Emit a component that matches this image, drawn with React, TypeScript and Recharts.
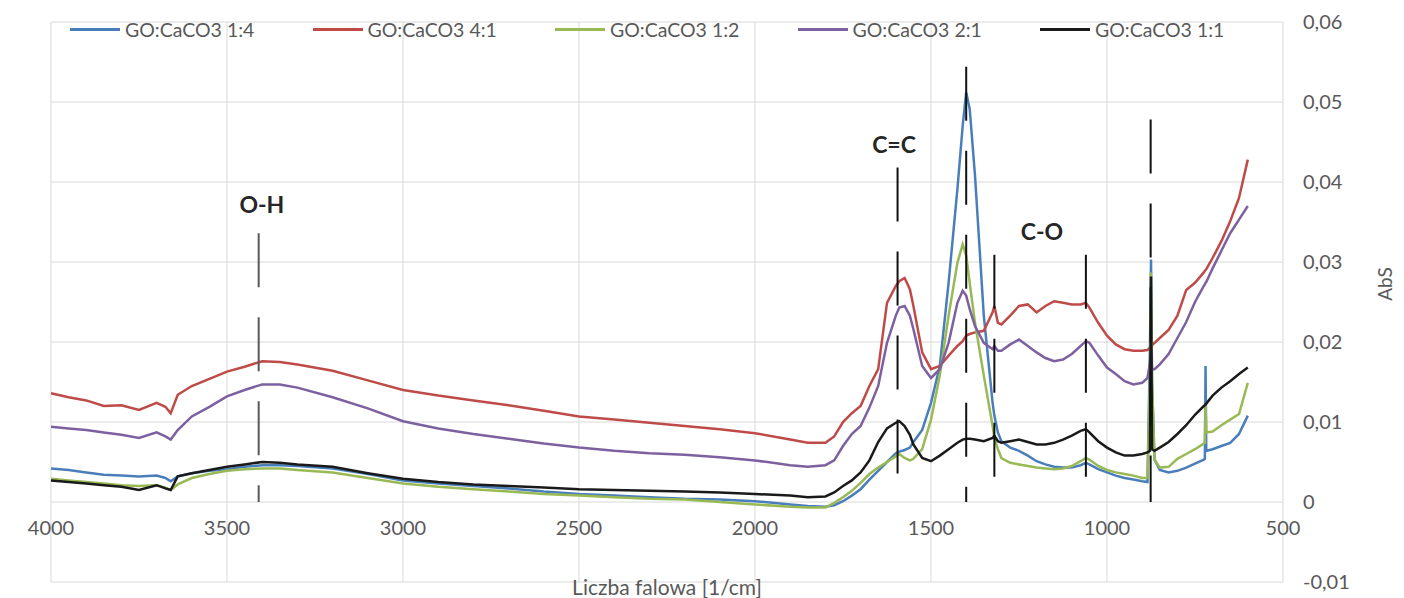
import {
  CartesianGrid,
  Legend,
  Line,
  LineChart,
  ReferenceDot,
  ReferenceLine,
  XAxis,
  YAxis,
} from "recharts";

// wavenumbers [1/cm], shared by all series
const waves = [
  4000, 3950, 3900, 3850, 3800, 3750, 3700, 3675, 3660, 3640,
  3600, 3550, 3500, 3450, 3400, 3350, 3300,
  3200, 3100, 3000, 2900, 2800, 2700, 2600, 2500, 2400, 2300, 2200, 2100, 2000, 1900, 1850,
  1800, 1775, 1750, 1725, 1700, 1675, 1650, 1625, 1600, 1590,
  1575, 1560, 1550, 1525, 1500, 1475, 1450, 1425, 1410, 1400,
  1390, 1375, 1350, 1325, 1320, 1310, 1300, 1275, 1250, 1225,
  1200, 1175, 1150, 1125, 1100, 1075, 1060, 1050, 1025, 1000,
  975, 950, 925, 900, 885, 878, 875, 872, 865, 850,
  825, 800, 775, 750, 725, 722, 720, 718, 700, 675,
  650, 625, 600,
];

const go14 = [
  0.0042, 0.004, 0.0037, 0.0034, 0.0033, 0.0032, 0.0033, 0.003, 0.0026, 0.0032,
  0.0036, 0.0039, 0.0041, 0.0044, 0.0046, 0.0046, 0.0045,
  0.0042, 0.0035, 0.0027, 0.0023, 0.002, 0.0017, 0.0013, 0.001, 0.0008, 0.0006, 0.0004, 0.0003, 0.0001, -0.0003, -0.0005,
  -0.0006, -0.0004, 0.0001, 0.0008, 0.0016, 0.0028, 0.0039, 0.005, 0.0061, 0.0063,
  0.0065, 0.0068, 0.0075, 0.009, 0.0124, 0.017, 0.0274, 0.0391, 0.047, 0.0512,
  0.0491, 0.0408, 0.0233, 0.0124, 0.0108, 0.0087, 0.0076, 0.0068, 0.0064, 0.0058,
  0.0051, 0.0047, 0.0044, 0.0043, 0.0043, 0.0046, 0.0049, 0.0047, 0.0041, 0.0037,
  0.0033, 0.003, 0.0028, 0.0026, 0.0025, 0.0191, 0.0303, 0.0149, 0.0053, 0.004,
  0.0037, 0.0039, 0.0043, 0.0048, 0.0053, 0.0054, 0.017, 0.0064, 0.0066, 0.007,
  0.0074, 0.0085, 0.0108,
];

const go41 = [
  0.0136, 0.0131, 0.0127, 0.012, 0.0121, 0.0115, 0.0124, 0.0119, 0.0111, 0.0134,
  0.0145, 0.0154, 0.0163, 0.0169, 0.0176, 0.0175, 0.0172,
  0.0164, 0.0152, 0.014, 0.0133, 0.0127, 0.0121, 0.0114, 0.0107, 0.0103, 0.0099, 0.0095, 0.0091, 0.0086, 0.0078, 0.0074,
  0.0074, 0.0082, 0.01, 0.0111, 0.012, 0.0145, 0.0166, 0.0249, 0.027, 0.0276,
  0.028, 0.0266, 0.0245, 0.0187, 0.0166, 0.017, 0.0183, 0.0195, 0.0201, 0.0208,
  0.021, 0.0212, 0.0214, 0.0237, 0.0245, 0.0224, 0.0222, 0.0233, 0.0245, 0.0247,
  0.0237, 0.0245, 0.0251, 0.0249, 0.0247, 0.0247, 0.0249, 0.0243, 0.0224, 0.0208,
  0.0197, 0.0191, 0.0189, 0.0189, 0.019, 0.0193, 0.0199, 0.0196, 0.0199, 0.0205,
  0.0215, 0.0233, 0.0265, 0.0274, 0.0287, 0.0289, 0.029, 0.0291, 0.0305, 0.0326,
  0.0351, 0.038, 0.0428,
];

const go12 = [
  0.0029, 0.0027, 0.0025, 0.0023, 0.0021, 0.002, 0.0021, 0.0018, 0.0015, 0.0022,
  0.003, 0.0035, 0.0039, 0.0041, 0.0042, 0.0042, 0.004,
  0.0037, 0.003, 0.0023, 0.0019, 0.0016, 0.0013, 0.001, 0.0008, 0.0006, 0.0004, 0.0003, 0.0, -0.0003, -0.0006, -0.0007,
  -0.0007, -0.0001, 0.0006, 0.0014, 0.0024, 0.0035, 0.0043, 0.005, 0.0057, 0.006,
  0.0055, 0.0052, 0.0054, 0.0066, 0.0103, 0.0158, 0.0233, 0.0299, 0.0322, 0.0308,
  0.0274, 0.0224, 0.0158, 0.0095, 0.008, 0.0066, 0.0055, 0.0049, 0.0047, 0.0045,
  0.0043, 0.0042, 0.0041, 0.0042, 0.0045, 0.0051, 0.0055, 0.0053, 0.0045, 0.004,
  0.0037, 0.0035, 0.0033, 0.003, 0.003, 0.0149, 0.0287, 0.0149, 0.0053, 0.0043,
  0.0044, 0.0054, 0.006, 0.0066, 0.0073, 0.0074, 0.012, 0.0087, 0.0088, 0.0096,
  0.0103, 0.011, 0.0149,
];

const go21 = [
  0.0094, 0.0092, 0.009, 0.0087, 0.0084, 0.008, 0.0087, 0.0082, 0.0078, 0.009,
  0.0107, 0.0119, 0.0132, 0.014, 0.0147, 0.0147, 0.0143,
  0.0131, 0.0117, 0.0101, 0.0092, 0.0085, 0.0079, 0.0073, 0.0068, 0.0064, 0.0061, 0.0059, 0.0056, 0.0052, 0.0046, 0.0044,
  0.0046, 0.0052, 0.007, 0.0085, 0.0095, 0.0118, 0.0145, 0.0199, 0.0233, 0.0243,
  0.0245, 0.0233, 0.0216, 0.017, 0.0155, 0.0166, 0.0199, 0.0249, 0.0264, 0.0258,
  0.0241, 0.022, 0.0199, 0.0191, 0.0195, 0.0189, 0.0189, 0.0197, 0.0203, 0.0195,
  0.0187, 0.018, 0.0176, 0.0178, 0.0185, 0.0195, 0.0201, 0.0199, 0.0183, 0.0168,
  0.016, 0.0151, 0.0147, 0.0149, 0.0155, 0.0174, 0.0191, 0.0166, 0.0166, 0.0172,
  0.0185, 0.0205, 0.0225, 0.025, 0.027, 0.0272, 0.0274, 0.0275, 0.0292, 0.0314,
  0.0336, 0.0353, 0.037,
];

const go11 = [
  0.0027, 0.0025, 0.0023, 0.0021, 0.0019, 0.0015, 0.0021, 0.0017, 0.0015, 0.0032,
  0.0036, 0.004, 0.0044, 0.0047, 0.005, 0.0049, 0.0047,
  0.0044, 0.0036, 0.0029, 0.0025, 0.0022, 0.002, 0.0018, 0.0016, 0.0015, 0.0014, 0.0013, 0.0012, 0.001, 0.0008, 0.0006,
  0.0007, 0.0012, 0.002, 0.0027, 0.0037, 0.0052, 0.0075, 0.0092, 0.0099, 0.0101,
  0.0095, 0.0084, 0.0072, 0.0055, 0.0051, 0.0058, 0.0066, 0.0074, 0.0078, 0.0079,
  0.0079, 0.0078, 0.0076, 0.008, 0.0083, 0.0076, 0.0074, 0.0076, 0.0078, 0.0075,
  0.0072, 0.0072, 0.0074, 0.0078, 0.0083, 0.0089, 0.0091, 0.0087, 0.0076, 0.0068,
  0.0062, 0.0058, 0.0058, 0.006, 0.0062, 0.0064, 0.0282, 0.0066, 0.0064, 0.0068,
  0.0075, 0.0085, 0.0096, 0.0109, 0.012, 0.0121, 0.0122, 0.0123, 0.0133, 0.0143,
  0.0151, 0.016, 0.0168,
];

const xTicks = [4000, 3500, 3000, 2500, 2000, 1500, 1000, 500];
const yTicks = [-0.01, 0, 0.01, 0.02, 0.03, 0.04, 0.05, 0.06];

// band markers: wavenumber and top of dashed line
const markerWaves = [3410, 1595, 1400, 1320, 1060, 876];
const markerTops = [0.0336, 0.0418, 0.0544, 0.0309, 0.0309, 0.0478];

const bandNames = ["O-H", "C=C", "C-O"];
const bandWaves = [3401, 1605, 1185];
const bandLevels = [0.0371, 0.0446, 0.0338];

const series = [
  { key: "go14", name: "GO:CaCO3 1:4", color: "#4a7ebb", values: go14 },
  { key: "go41", name: "GO:CaCO3 4:1", color: "#be4b48", values: go41 },
  { key: "go12", name: "GO:CaCO3 1:2", color: "#98b954", values: go12 },
  { key: "go21", name: "GO:CaCO3 2:1", color: "#7d60a0", values: go21 },
  { key: "go11", name: "GO:CaCO3 1:1", color: "#1a1a1a", values: go11 },
];

const data = waves.map((w, i) => {
  const row: Record<string, number> = { w };
  series.forEach((s) => (row[s.key] = s.values[i]));
  return row;
});

const W = 1404;
const H = 598;
const TOP = 22;
const BOTTOM = 16;
const PLOT_H = H - TOP - BOTTOM;
const Y_MIN = -0.01;
const Y_MAX = 0.06;
const ZERO_Y = TOP + (Y_MAX / (Y_MAX - Y_MIN)) * PLOT_H;

const FONT = "Lato, 'Open Sans', sans-serif";
const GREY = "#595959";

const XTick = (props: any) => (
  <text
    x={props.x}
    y={ZERO_Y + 25}
    textAnchor="middle"
    dominantBaseline="central"
    fill={GREY}
    fontSize={20}
    fontFamily={FONT}
  >
    {props.payload.value}
  </text>
);

const absLabel = (props: any) => {
  const vb = props.viewBox;
  return (
    <text
      transform={`translate(${vb.x + vb.width - 20},${vb.y + vb.height / 2 - 18}) rotate(-90)`}
      textAnchor="middle"
      dominantBaseline="central"
      fill={GREY}
      fontSize={19}
      fontFamily={FONT}
    >
      AbS
    </text>
  );
};

const LegendBox = () => (
  <div style={{ display: "flex", fontFamily: FONT }}>
    {series.map((s) => (
      <div key={s.key} style={{ width: 242.5, display: "flex", alignItems: "center" }}>
        <span style={{ width: 50, height: 3, background: s.color, display: "inline-block" }} />
        <span style={{ marginLeft: 5, fontSize: 19.5, color: GREY, whiteSpace: "nowrap" }}>
          {s.name}
        </span>
      </div>
    ))}
  </div>
);

export default function App() {
  return (
    <div style={{ position: "absolute", left: 0, top: 0, background: "#fff", fontFamily: FONT }}>
      <LineChart width={W} height={H} data={data} margin={{ top: TOP, right: 0, bottom: 0, left: 51 }}>
        <CartesianGrid stroke="#d9d9d9" strokeWidth={1} />
        <XAxis
          dataKey="w"
          type="number"
          domain={[500, 4000]}
          reversed
          ticks={xTicks}
          height={BOTTOM}
          axisLine={false}
          tickLine={false}
          tick={<XTick />}
          label={{
            value: "Liczba falowa [1/cm]",
            position: "center",
            fill: GREY,
            fontSize: 21,
            fontFamily: FONT,
            dy: -2,
          }}
        />
        <YAxis
          orientation="right"
          type="number"
          domain={[Y_MIN, Y_MAX]}
          ticks={yTicks}
          width={121}
          axisLine={false}
          tickLine={false}
          tickSize={0}
          tickMargin={20}
          tick={{ fill: GREY, fontSize: 20, fontFamily: FONT }}
          tickFormatter={(v: number) => (v === 0 ? "0" : v.toFixed(2).replace(".", ","))}
          label={absLabel}
        />
        <Legend
          verticalAlign="middle"
          layout="horizontal"
          wrapperStyle={{ top: 18, left: 70, width: 1250 }}
          content={<LegendBox />}
        />
        {series.map((s) => (
          <Line
            key={s.key}
            dataKey={s.key}
            name={s.name}
            type="linear"
            stroke={s.color}
            strokeWidth={2.5}
            dot={false}
            isAnimationActive={false}
          />
        ))}
        {markerWaves.map((m, i) => (
          <ReferenceLine
            key={m}
            segment={[
              { x: m, y: markerTops[i] },
              { x: m, y: 0 },
            ]}
            stroke={i === 0 ? "#595959" : "#111"}
            strokeWidth={2}
            strokeDasharray="54 30"
          />
        ))}
        {bandNames.map((b, i) => (
          <ReferenceDot
            key={b}
            x={bandWaves[i]}
            y={bandLevels[i]}
            r={0}
            fill="none"
            stroke="none"
            label={{
              value: b,
              position: "center",
              fill: "#262626",
              fontSize: 23,
              fontWeight: "bold",
              fontFamily: FONT,
            }}
          />
        ))}
      </LineChart>
    </div>
  );
}
